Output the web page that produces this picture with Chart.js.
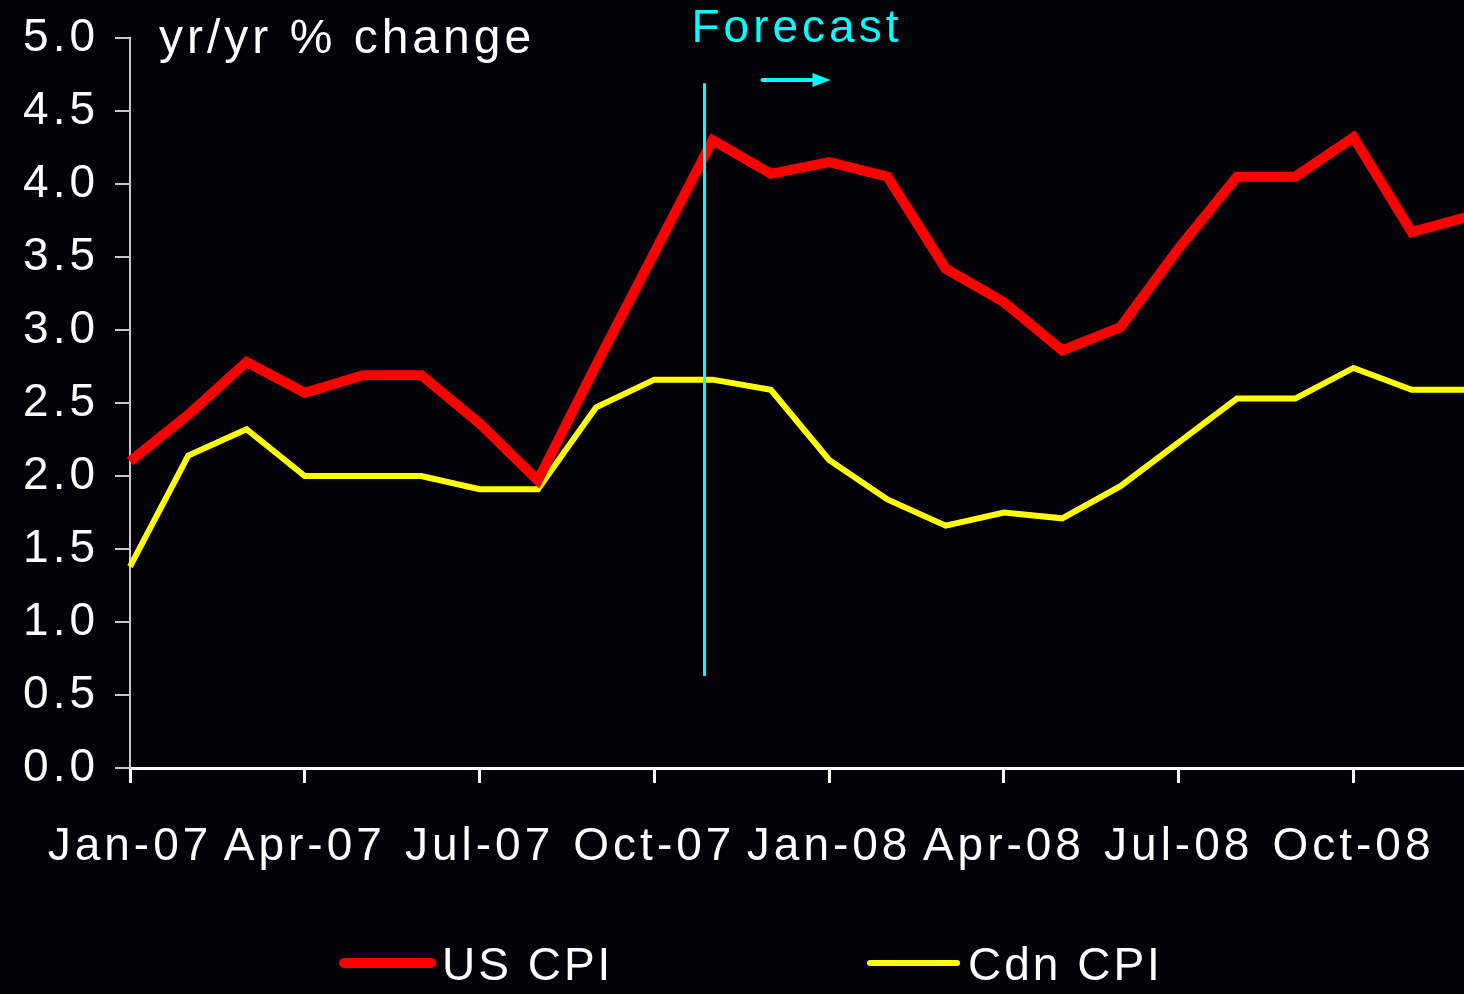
<!DOCTYPE html>
<html>
<head>
<meta charset="utf-8">
<script src="https://cdn.jsdelivr.net/npm/chart.js@4/dist/chart.umd.min.js"></script>
<style>
  html, body { margin: 0; padding: 0; background: #030209; overflow: hidden; }
  #wrap { width: 1480px; height: 994px; }
</style>
</head>
<body>
<div id="wrap"><canvas id="cpiChart" width="1480" height="994"></canvas></div>
<script>
// months on the category axis, every 3rd one gets a label
const months = ['Jan-07', 'Feb-07', 'Mar-07', 'Apr-07', 'May-07', 'Jun-07', 'Jul-07', 'Aug-07',
                'Sep-07', 'Oct-07', 'Nov-07', 'Dec-07', 'Jan-08', 'Feb-08', 'Mar-08', 'Apr-08',
                'May-08', 'Jun-08', 'Jul-08', 'Aug-08', 'Sep-08', 'Oct-08', 'Nov-08', 'Dec-08'];

// yr/yr % change
const usCpi  = [2.1, 2.42, 2.78, 2.57, 2.69, 2.69, 2.36, 1.97, 2.76, 3.53, 4.3, 4.07,
                4.15, 4.05, 3.42, 3.19, 2.86, 3.02, 3.56, 4.05, 4.05, 4.32, 3.67, 3.78];
const cdnCpi = [1.38, 2.14, 2.32, 2.0, 2.0, 2.0, 1.91, 1.91, 2.47, 2.66, 2.66, 2.59,
                2.11, 1.84, 1.66, 1.75, 1.71, 1.93, 2.23, 2.53, 2.53, 2.74, 2.59, 2.59];

const yTicks = [0, 0.5, 1, 1.5, 2, 2.5, 3, 3.5, 4, 4.5, 5];

// forecast marker: position on the month axis and vertical span
const forecastAt = 9.86;
const forecastSpan = [0.63, 4.69];

const FONT = 'Liberation Sans, Arial, sans-serif';
const FSIZE = 46;
const SPACING = '4px';

// canvas letterSpacing is not exposed by Chart.js, set it on the context
const spacingPlugin = {
    id: 'spacing',
    beforeUpdate(chart) { chart.ctx.letterSpacing = SPACING; },
    beforeDraw(chart) { chart.ctx.letterSpacing = SPACING; }
};

const forecastPlugin = {
    id: 'forecast',
    afterDatasetsDraw(chart) {
        const {ctx, scales: {x, y}} = chart;
        const px = Math.round(x.getPixelForValue(forecastAt)) + 0.5;
        ctx.save();
        ctx.strokeStyle = '#00ffff';
        ctx.fillStyle = '#00ffff';
        ctx.lineWidth = 3;
        ctx.beginPath();
        ctx.moveTo(px, y.getPixelForValue(forecastSpan[0]));
        ctx.lineTo(px, y.getPixelForValue(forecastSpan[1]));
        ctx.stroke();

        // arrow
        ctx.lineWidth = 4;
        ctx.lineCap = 'round';
        ctx.beginPath();
        ctx.moveTo(px + 58, 80);
        ctx.lineTo(px + 110, 80);
        ctx.stroke();
        ctx.beginPath();
        ctx.moveTo(px + 126, 80);
        ctx.lineTo(px + 108, 73);
        ctx.lineTo(px + 108, 87);
        ctx.closePath();
        ctx.fill();

        ctx.font = FSIZE + 'px ' + FONT;
        ctx.textAlign = 'left';
        ctx.textBaseline = 'middle';
        ctx.fillText('Forecast', px - 13, 29);

        ctx.fillStyle = '#ffffff';
        ctx.font = '48px ' + FONT;
        ctx.letterSpacing = '4px';
        ctx.fillText('yr/yr % change', 159, 40);
        ctx.restore();
    }
};

// legend drawn under the axis labels, spread like the original
const legendPlugin = {
    id: 'bottomLegend',
    afterDraw(chart, args, opts) {
        const ctx = chart.ctx;
        ctx.save();
        ctx.font = FSIZE + 'px ' + FONT;
        ctx.letterSpacing = '3px';
        ctx.textBaseline = 'middle';
        ctx.textAlign = 'left';
        chart.data.datasets.forEach((ds, i) => {
            const x0 = opts.xs[i];
            ctx.strokeStyle = ds.borderColor;
            ctx.lineWidth = ds.borderWidth;
            ctx.lineCap = 'round';
            ctx.beginPath();
            ctx.moveTo(x0 + 4, opts.y);
            ctx.lineTo(x0 + 91, opts.y);
            ctx.stroke();
            ctx.fillStyle = '#ffffff';
            ctx.fillText(ds.label, x0 + 102, opts.y + 4);
        });
        ctx.restore();
    }
};

new Chart(document.getElementById('cpiChart'), {
    type: 'line',
    data: {
        labels: months,
        datasets: [{
            label: 'US CPI',
            data: usCpi,
            borderColor: '#ff0000',
            borderWidth: 10,
            pointRadius: 0,
            tension: 0,
            borderJoinStyle: 'miter',
            fill: false
        }, {
            label: 'Cdn CPI',
            data: cdnCpi,
            borderColor: '#ffff00',
            borderWidth: 6,
            pointRadius: 0,
            tension: 0,
            borderJoinStyle: 'miter',
            fill: false
        }]
    },
    options: {
        responsive: false,
        animation: false,
        layout: { padding: { top: 38, right: 10, bottom: 106, left: 0 } },
        plugins: {
            legend: { display: false },
            tooltip: { enabled: false },
            bottomLegend: { xs: [340, 866], y: 963 }
        },
        scales: {
            x: {
                offset: false,
                border: { color: '#ffffff', width: 3 },
                grid: {
                    drawOnChartArea: false,
                    tickLength: 15,
                    lineWidth: 3,
                    color: ctx => ctx.index % 3 === 0 ? '#ffffff' : 'rgba(0,0,0,0)'
                },
                ticks: {
                    autoSkip: false,
                    maxRotation: 0,
                    padding: 37,
                    color: '#ffffff',
                    font: { family: FONT, size: FSIZE },
                    callback: (v, i) => i % 3 === 0 ? months[i] : ''
                },
                afterFit: s => { s.height = 120; s.paddingLeft = 0; s.paddingRight = 0; }
            },
            y: {
                min: 0,
                max: 5,
                afterBuildTicks: s => { s.ticks = yTicks.map(v => ({value: v})); },
                border: { color: '#c8c8c8', width: 2 },
                grid: {
                    drawOnChartArea: false,
                    tickLength: 15,
                    lineWidth: 2,
                    color: '#c8c8c8'
                },
                ticks: {
                    padding: 16,
                    color: '#ffffff',
                    font: { family: FONT, size: FSIZE },
                    callback: v => v.toFixed(1)
                },
                afterFit: s => { s.width = 130; s.paddingTop = 0; s.paddingBottom = 0; }
            }
        }
    },
    plugins: [spacingPlugin, forecastPlugin, legendPlugin]
});
</script>
</body>
</html>
